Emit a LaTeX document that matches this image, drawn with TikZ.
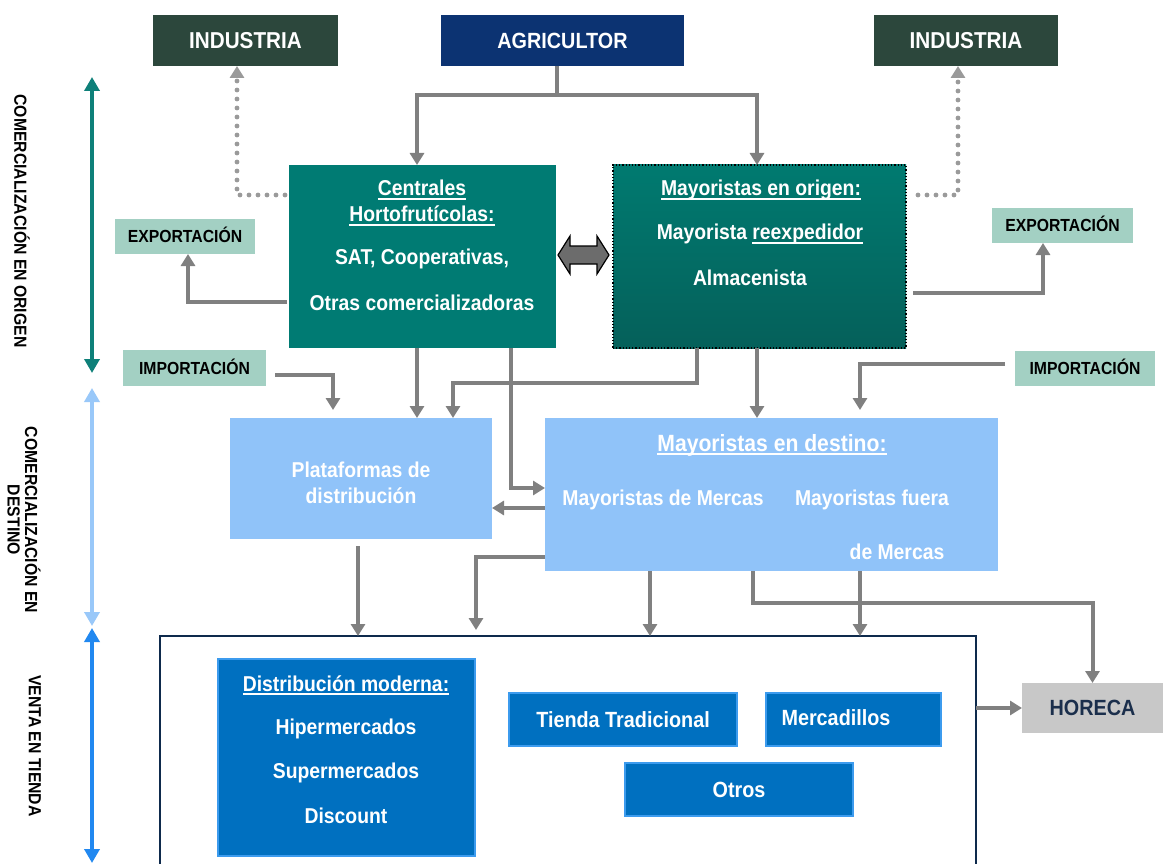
\documentclass[tikz,border=0pt]{standalone}
\usepackage{fontspec}
\setmainfont{Liberation Sans}[FakeStretch=0.9]
\usetikzlibrary{arrows.meta,calc}
\definecolor{indgreen}{HTML}{2C473C}
\definecolor{navyc}{HTML}{0C3372}
\definecolor{tealc}{HTML}{007B73}
\definecolor{tealtop}{HTML}{007A70}
\definecolor{tealbot}{HTML}{05605A}
\definecolor{mintc}{HTML}{A3D0C3}
\definecolor{skyc}{HTML}{90C3F9}
\definecolor{bluec}{HTML}{0070C0}
\definecolor{blueedge}{HTML}{3C9BEE}
\definecolor{arrgray}{HTML}{808080}
\definecolor{dotgray}{HTML}{9A9A9A}
\definecolor{horecag}{HTML}{C8C8C8}
\definecolor{horecat}{HTML}{1B2F4C}
\definecolor{ventaedge}{HTML}{0E2A4C}
\definecolor{sidet}{HTML}{0E8079}
\definecolor{sidel}{HTML}{99C8F9}
\definecolor{sideb}{HTML}{2188F0}
\newcommand{\fsz}[1]{\fontsize{#1}{#1}\selectfont}
\newcommand{\myul}[1]{\begingroup\setbox0\hbox{#1}\rlap{\usebox0}\raisebox{-4pt}{\rule{\wd0}{1.8pt}}\endgroup}
\begin{document}
\begin{tikzpicture}[x=1pt,y=-1pt,
  box/.style={rectangle, inner sep=0pt, outer sep=0pt},
  hdr/.style={box, text=white, font=\bfseries\fsz{23}, text height=16.5pt, text depth=0pt},
  tag/.style={box, fill=mintc, text=black, font=\bfseries\fsz{17.5}, text height=12.5pt, text depth=0pt},
  sbox/.style={box, fill=bluec, draw=blueedge, line width=1.5pt, text=white, font=\bfseries\fsz{22}, text height=15.7pt, text depth=0pt},
  txt/.style={anchor=base, inner sep=0pt, text=white, font=\bfseries\fsz{21.5}},
  side/.style={anchor=center, inner sep=0pt, text=black, font=\bfseries\fsz{17.5}, rotate=-90, align=center},
  conn/.style={draw=arrgray, line width=4pt, -{Triangle[length=12pt,width=14pt]}},
  dotconn/.style={draw=dotgray, line width=4.8pt, line cap=round, dash pattern=on 0pt off 9pt, -{Triangle[length=12pt,width=14pt]}},
  sidearr/.style={line width=4pt, {Triangle[length=14pt,width=15pt]}-{Triangle[length=14pt,width=15pt]}}
]
\useasboundingbox (0,0) rectangle (1163,864);
\fill[white] (0,0) rectangle (1163,864);

% top row
\node[hdr, fill=indgreen, minimum width=185pt, minimum height=51pt] (indL) at (245.5,40.5) {INDUSTRIA};
\node[hdr, fill=navyc, minimum width=243pt, minimum height=51pt, font=\bfseries\fsz{22}, text height=15.7pt] (agri) at (562.5,40.5) {AGRICULTOR};
\node[hdr, fill=indgreen, minimum width=184pt, minimum height=51pt] (indR) at (966,40.5) {INDUSTRIA};

% origin boxes
\node[box, fill=tealc, minimum width=267pt, minimum height=183pt] (cent) at (422.5,256.5) {};
\node[box, top color=tealtop, bottom color=tealbot, draw=black, line width=1.2pt, dotted, minimum width=293pt, minimum height=183pt] (mayo) at (759.5,256.5) {};

\node[txt] (c1) at (422,196) {\myul{Centrales}};
\node[txt] (c2) at (422,222) {\myul{Hortofrutícolas:}};
\node[txt] (c3) at (422,265) {SAT, Cooperativas,};
\node[txt] (c4) at (422,310) {Otras comercializadoras};

\node[txt] (m1) at (761,196) {\myul{Mayoristas en origen:}};
\node[txt] (m2) at (760,240) {Mayorista \myul{reexpedidor}};
\node[txt] (m3) at (750,285) {Almacenista};

% tags
\node[tag, minimum width=140pt, minimum height=35pt] (expL) at (185,236.5) {EXPORTACIÓN};
\node[tag, minimum width=141pt, minimum height=35pt] (expR) at (1062.5,225.5) {EXPORTACIÓN};
\node[tag, minimum width=143pt, minimum height=36pt] (impL) at (194.5,368) {IMPORTACIÓN};
\node[tag, minimum width=140pt, minimum height=35pt] (impR) at (1085,368.5) {IMPORTACIÓN};

% destination boxes
\node[box, fill=skyc, minimum width=262pt, minimum height=121pt] (plat) at (361,478.5) {};
\node[txt] (p1) at (361,477) {Plataformas de};
\node[txt] (p2) at (361,503) {distribución};

\node[box, fill=skyc, minimum width=453pt, minimum height=153pt] (dest) at (771.5,494.5) {};
\node[txt, font=\bfseries\fsz{23.5}] (d1) at (772,451) {\myul{Mayoristas en destino:}};
\node[txt] (d2) at (663,505) {Mayoristas de Mercas};
\node[txt] (d3) at (872,505) {Mayoristas fuera};
\node[txt] (d4) at (897,559) {de Mercas};

% retail
\node[box, fill=white, draw=ventaedge, line width=2.5pt, minimum width=816pt, minimum height=234pt] (venta) at (568,753) {};
\node[box, fill=bluec, draw=blueedge, line width=1.5pt, minimum width=257pt, minimum height=197pt] (dmod) at (346.5,757.5) {};
\node[txt] (r1) at (346,691) {\myul{Distribución moderna:}};
\node[txt] (r2) at (346,734) {Hipermercados};
\node[txt] (r3) at (346,778) {Supermercados};
\node[txt] (r4) at (346,823) {Discount};
\node[sbox, minimum width=228pt, minimum height=53pt] (tienda) at (623,719.5) {Tienda Tradicional};
\node[sbox, minimum width=175pt, minimum height=53pt] (merc) at (853.5,719.5) {};
\node[txt, font=\bfseries\fsz{22}] (mc) at (836,725) {Mercadillos};
\node[sbox, minimum width=228pt, minimum height=53pt] (otros) at (739,789.5) {Otros};
\node[box, fill=horecag, text=horecat, font=\bfseries\fsz{22}, text height=15.7pt, text depth=0pt, minimum width=141pt, minimum height=50pt] (horeca) at (1092.5,708) {HORECA};

% side labels and arrows
\node[side] (s1) at (22,221) {COMERCIALIZACIÓN EN ORIGEN};
\node[side] (s2) at (24,520) {COMERCIALIZACIÓN EN\\DESTINO};
\node[side] (s3) at (35,746) {VENTA EN TIENDA};
\coordinate (a1t) at (92,77);
\coordinate (a1b) at (92,373);
\coordinate (a2t) at (92,388);
\coordinate (a2b) at (92,626);
\coordinate (a3t) at (92,628);
\coordinate (a3b) at (92,863);
\draw[sidearr, draw=sidet, fill=sidet] (a1t) -- (a1b);
\draw[sidearr, draw=sidel, fill=sidel] (a2t) -- (a2b);
\draw[sidearr, draw=sideb, fill=sideb] (a3t) -- (a3b);

% connectors
\draw[conn] ([xshift=-5.5pt]agri.south) -- ++(0,29) -| ($(cent.north west)+(128,0)$);
\draw[conn] ([xshift=-5.5pt]agri.south) -- ++(0,29) -| ($(mayo.north west)+(144,0)$);
\draw[dotconn] ($(cent.north west)+(-4,30)$) -| ([xshift=-8.5pt]indL.south);
\draw[dotconn] ($(mayo.north east)+(12,30)$) -| ([xshift=-8pt]indR.south);
\draw[conn] ($(cent.south west)+(-2,-46)$) -| ([xshift=3pt]expL.south);
\draw[conn] ($(mayo.south east)+(7,-55)$) -| ([xshift=-19.5pt]expR.south);
\draw[conn] ($(impL.east)+(9,7)$) -| ($(plat.north west)+(103,-8)$);
\draw[conn] ($(cent.south west)+(128,0)$) -- ($(plat.north west)+(187,0)$);
\draw[conn] ($(cent.south west)+(222,0)$) |- ($(dest.north west)+(0,70)$);
\draw[conn] ($(mayo.south west)+(84,0)$) -- ++(0,35) -| ($(plat.north west)+(223,0)$);
\draw[conn] ($(mayo.south west)+(144,0)$) -- ($(dest.north west)+(212,0)$);
\draw[conn] ($(impR.west)+(-10,-5)$) -| ($(dest.north west)+(315,-8)$);
\draw[conn] ($(dest.north west)+(0,90)$) -- ($(plat.north east)+(0,90)$);
\draw[conn] ($(plat.south west)+(128,7)$) -- ($(venta.north west)+(198,0)$);
\draw[conn] ($(dest.south west)+(0,-14)$) -| ($(venta.north west)+(316,-6)$);
\draw[conn] ($(dest.south west)+(105,0)$) -- ($(venta.north west)+(490,0)$);
\draw[conn] ($(dest.south west)+(208,0)$) -- ++(0,32) -| (horeca.north);
\draw[conn] ($(dest.south west)+(315,0)$) -- ($(venta.north west)+(700,0)$);
\draw[conn] (venta.east |- horeca.west) -- (horeca.west);

% double arrow between origin boxes
\coordinate (dL) at ($(cent.east)+(2,-1.5)$);
\coordinate (dR) at ($(mayo.west)+(-4,-1.5)$);
\draw[fill=gray!85!black, draw=black, line width=1.2pt, line join=miter]
  (dL) -- ++(12,-19) -- ++(0,10) -- ($(dR)+(-12,-9)$) -- ++(0,-10) -- (dR)
  -- ++(-12,19) -- ++(0,-10) -- ($(dL)+(12,9)$) -- ++(0,10) -- cycle;
\end{tikzpicture}
\end{document}
